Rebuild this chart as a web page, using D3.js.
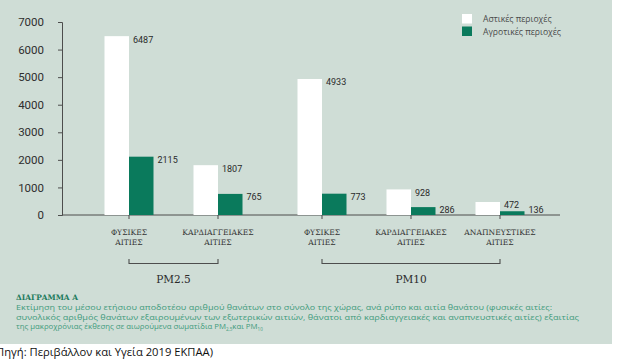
<!DOCTYPE html>
<html lang="el">
<head>
<meta charset="UTF-8">
<title>Διάγραμμα Α</title>
<script src="https://d3js.org/d3.v7.min.js"></script>
<style>
  body { margin: 0; background: #fff; }
  svg { display: block; }
</style>
</head>
<body>
<div id="chart"></div>
<script>
// data
var causes = ["ΦΥΣΙΚΕΣ|ΑΙΤΙΕΣ", "ΚΑΡΔΙΑΓΓΕΙΑΚΕΣ|ΑΙΤΙΕΣ", "ΦΥΣΙΚΕΣ|ΑΙΤΙΕΣ", "ΚΑΡΔΙΑΓΓΕΙΑΚΕΣ|ΑΙΤΙΕΣ", "ΑΝΑΠΝΕΥΣΤΙΚΕΣ|ΑΙΤΙΕΣ"];
var pollutant = ["PM2.5", "PM2.5", "PM10", "PM10", "PM10"];
var urban = [6487, 1807, 4933, 928, 472];
var rural = [2115, 765, 773, 286, 136];
var seriesNames = ["Αστικές περιοχές", "Αγροτικές περιοχές"];
var yTicks = [0, 1000, 2000, 3000, 4000, 5000, 6000, 7000];

var W = 618, H = 362;
var green = "#0a7a5c";
var axisCol = "#4d4d4d";

var svg = d3.select("#chart").append("svg")
    .attr("width", W)
    .attr("height", H);

// background panel
svg.append("rect")
    .attr("x", 0).attr("y", 0)
    .attr("width", 612).attr("height", 344)
    .attr("fill", "#cfddd6");

var y = d3.scaleLinear().domain([0, 7000]).range([215, 22]);

// category positions, PM10 group pushed right a bit
var keys = causes.map(function(c, i) { return i; });
var pt = d3.scalePoint().domain(keys).range([129, 485]);
var gap = 15;
function cx(i) { return pt(i) + (pollutant[i] === "PM10" ? gap : 0); }
var barW = 24.5;

// y axis
var yAxis = d3.axisLeft(y).tickValues(yTicks).tickFormat(d3.format("d"))
    .tickSize(4).tickSizeOuter(4).tickPadding(14);
var gy = svg.append("g")
    .attr("transform", "translate(62,0)")
    .call(yAxis);
gy.select(".domain").attr("stroke", axisCol);
gy.selectAll(".tick line").attr("stroke", axisCol);
gy.selectAll(".tick text")
    .attr("fill", "#2e2e2e")
    .style("font-family", "Roboto, sans-serif")
    .style("font-size", "11.5px");

// x baseline
svg.append("line")
    .attr("x1", 62).attr("x2", 560)
    .attr("y1", y(0)).attr("y2", y(0))
    .attr("stroke", axisCol).attr("stroke-width", 1);

svg.selectAll(".xtick")
    .data(keys)
    .enter().append("line")
    .attr("class", "xtick")
    .attr("x1", function(i) { return cx(i); })
    .attr("x2", function(i) { return cx(i); })
    .attr("y1", y(0)).attr("y2", y(0) + 4)
    .attr("stroke", axisCol);

// bars
svg.selectAll(".bar-u")
    .data(urban)
    .enter().append("rect")
    .attr("class", "bar-u")
    .attr("x", function(d, i) { return cx(i) - barW; })
    .attr("y", function(d) { return y(d); })
    .attr("width", barW)
    .attr("height", function(d) { return y(0) - y(d); })
    .attr("fill", "#ffffff");

svg.selectAll(".bar-r")
    .data(rural)
    .enter().append("rect")
    .attr("class", "bar-r")
    .attr("x", function(d, i) { return cx(i); })
    .attr("y", function(d) { return y(d); })
    .attr("width", barW)
    .attr("height", function(d) { return y(0) - y(d); })
    .attr("fill", green);

// value labels (kept above the baseline for the short bars)
function valueLabels(data, offset, cls) {
    svg.selectAll("." + cls)
        .data(data)
        .enter().append("text")
        .attr("class", cls)
        .attr("x", function(d, i) { return cx(i) + offset + 4; })
        .attr("y", function(d) { return Math.min(y(d) + 6.5, 213); })
        .attr("fill", "#2a2a2a")
        .style("font-family", "Roboto, sans-serif")
        .style("font-size", "9px")
        .text(function(d) { return d; });
}
valueLabels(urban, 0, "lab-u");
valueLabels(rural, barW, "lab-r");

// category labels (two lines)
var cat = svg.selectAll(".cat")
    .data(causes)
    .enter().append("text")
    .attr("class", "cat")
    .attr("text-anchor", "middle")
    .attr("fill", "#333")
    .style("font-family", "'DejaVu Serif', serif")
    .style("font-size", "7.6px");
cat.each(function(d, i) {
    var parts = d.split("|");
    var t = d3.select(this);
    parts.forEach(function(p, j) {
        t.append("tspan")
            .attr("x", cx(i))
            .attr("y", 235 + j * 9.5)
            .text(p);
    });
});

// group brackets
var groups = ["PM2.5", "PM10"];
groups.forEach(function(g) {
    var idx = keys.filter(function(i) { return pollutant[i] === g; });
    var x1 = cx(idx[0]), x2 = cx(idx[idx.length - 1]);
    svg.append("path")
        .attr("d", "M" + x1 + ",259V263.5H" + x2 + "V259")
        .attr("fill", "none")
        .attr("stroke", axisCol)
        .attr("stroke-width", 1.1);
    svg.append("text")
        .attr("x", (x1 + x2) / 2)
        .attr("y", 283)
        .attr("text-anchor", "middle")
        .attr("fill", "#2a2a2a")
        .style("font-family", "'DejaVu Serif', serif")
        .style("font-size", "10.5px")
        .text(g);
});

// legend
var legendColors = ["#ffffff", green];
var lg = svg.selectAll(".leg")
    .data(seriesNames)
    .enter().append("g")
    .attr("class", "leg")
    .attr("transform", function(d, i) { return "translate(462," + (14 + i * 12.5) + ")"; });
lg.append("rect")
    .attr("width", 10).attr("height", 9.5)
    .attr("fill", function(d, i) { return legendColors[i]; });
lg.append("text")
    .attr("x", 21).attr("y", 8)
    .attr("fill", "#4a4a4a")
    .style("font-family", "'Open Sans', sans-serif")
    .style("font-size", "8.6px")
    .text(function(d) { return d; });

// caption
svg.append("text")
    .attr("x", 16).attr("y", 300)
    .attr("fill", "#1e7a5c")
    .style("font-family", "'DejaVu Serif', serif")
    .style("font-weight", "bold")
    .style("font-size", "7.4px")
    .text("ΔΙΑΓΡΑΜΜΑ Α");

var capLines = [
    "Εκτίμηση του μέσου ετήσιου αποδοτέου αριθμού θανάτων στο σύνολο της χώρας, ανά ρύπο και αιτία θανάτου (φυσικές αιτίες:",
    "συνολικός αριθμός θανάτων εξαιρουμένων των εξωτερικών αιτιών, θάνατοι από καρδιαγγειακές και αναπνευστικές αιτίες) εξαιτίας"
];
var capLens = [536, 563];
capLines.forEach(function(l, i) {
    svg.append("text")
        .attr("x", 16).attr("y", 310 + i * 9.5)
        .attr("fill", "#3f9b7c")
        .attr("textLength", capLens[i])
        .attr("lengthAdjust", "spacingAndGlyphs")
        .style("font-family", "'Open Sans', sans-serif")
        .style("font-size", "7.8px")
        .text(l);
});
var last = svg.append("text")
    .attr("x", 16).attr("y", 329)
    .attr("fill", "#3f9b7c")
    .style("font-family", "'Open Sans', sans-serif")
    .style("font-size", "7.8px");
last.append("tspan").text("της μακροχρόνιας έκθεσης σε αιωρούμενα σωματίδια PM");
last.append("tspan").attr("dy", 2).style("font-size", "4.5px").text("2,5");
last.append("tspan").attr("dy", -2).text("και PM");
last.append("tspan").attr("dy", 2).style("font-size", "4.5px").text("10");

// source line
svg.append("text")
    .attr("x", -4).attr("y", 356)
    .attr("fill", "#111")
    .attr("textLength", 217)
    .attr("lengthAdjust", "spacingAndGlyphs")
    .style("font-family", "'Open Sans', sans-serif")
    .style("font-size", "11.5px")
    .text("Πηγή: Περιβάλλον και Υγεία 2019 ΕΚΠΑΑ)");
</script>
</body>
</html>
